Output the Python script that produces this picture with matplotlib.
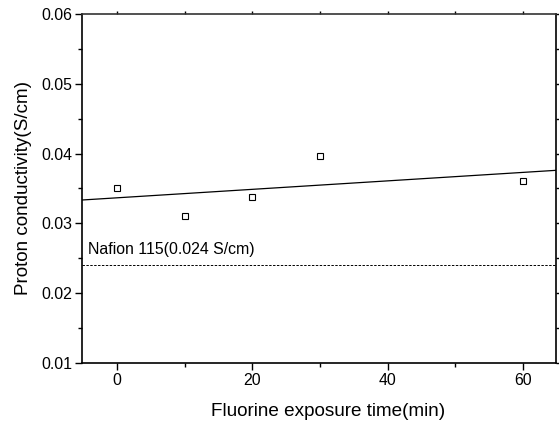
import numpy as np
import matplotlib
matplotlib.use('Agg')
import matplotlib.pyplot as plt
from matplotlib.ticker import MultipleLocator

plt.rcParams['font.family'] = ['Liberation Sans', 'DejaVu Sans']

# Data
exposure_time = [0, 10, 20, 30, 60]
conductivity = [0.0350, 0.0310, 0.0338, 0.0397, 0.0361]
nafion_value = 0.024
nafion_label = 'Nafion 115(0.024 S/cm)'

fig = plt.figure(figsize=(5.59, 4.21), dpi=100)
ax = fig.add_axes([0.1467, 0.1378, 0.848, 0.829])

ax.plot(exposure_time, conductivity, 's', markerfacecolor='white',
        markeredgecolor='black', markersize=4.8, markeredgewidth=0.8, zorder=3)

# linear fit across the full x range
xlim = (-5.2, 64.9)
slope, intercept = np.polyfit(exposure_time, conductivity, 1)
xfit = np.array(xlim)
ax.plot(xfit, slope * xfit + intercept, color='black', linewidth=0.9)

ax.axhline(nafion_value, color='black', linestyle=(0, (2.5, 1.5)), linewidth=0.7)
ax.text(0.012, nafion_value + 0.0012, nafion_label, transform=ax.get_yaxis_transform(),
        fontsize=11.4, va='bottom', ha='left')

ax.set_xlim(*xlim)
ax.set_ylim(0.01, 0.06)
ax.xaxis.set_major_locator(MultipleLocator(20))
ax.xaxis.set_minor_locator(MultipleLocator(10))
ax.yaxis.set_major_locator(MultipleLocator(0.01))
ax.yaxis.set_minor_locator(MultipleLocator(0.005))
ax.yaxis.set_major_formatter(plt.FuncFormatter(lambda v, p: f'{v:.2f}'))

ax.tick_params(axis='both', which='major', direction='out', length=5, width=1,
               labelsize=11.4, pad=2)
ax.tick_params(axis='both', which='minor', direction='out', length=3, width=1)
ax.tick_params(which='both', top=True, right=True)
# small ticks on top/right, no labels
for t in ax.xaxis.get_major_ticks() + ax.xaxis.get_minor_ticks():
    t.tick2line.set_markersize(2)
for t in ax.yaxis.get_major_ticks() + ax.yaxis.get_minor_ticks():
    t.tick2line.set_markersize(2)

for s in ax.spines.values():
    s.set_linewidth(1.2)
ax.spines['top'].set_color('#333333')

ax.set_xlabel('Fluorine exposure time(min)', fontsize=13.6)
ax.set_ylabel('Proton conductivity(S/cm)', fontsize=13.6)
ax.xaxis.set_label_coords(0.52, -0.115)
ax.yaxis.set_label_coords(-0.105, 0.5)

fig.savefig('out.png', dpi=100)
